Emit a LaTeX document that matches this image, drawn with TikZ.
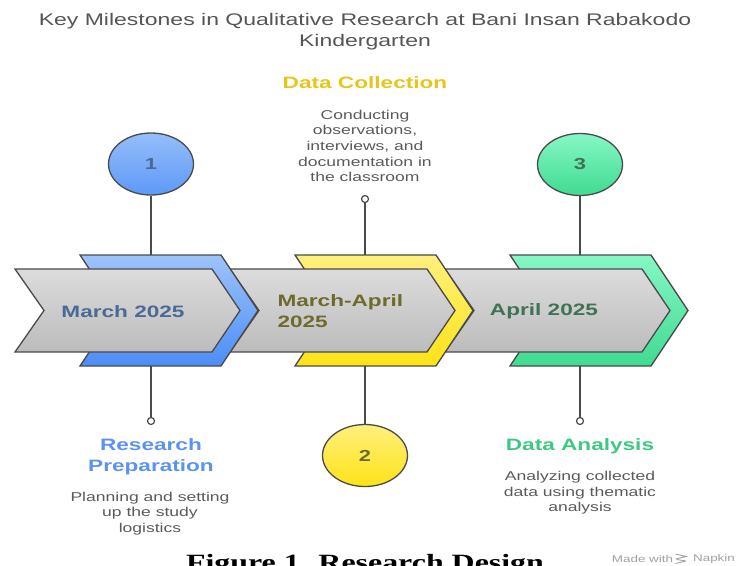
\documentclass[tikz,border=0pt]{standalone}
\usepackage{fontspec}
\setmainfont[FakeStretch=1.37]{Liberation Sans}
\newfontfamily\capfont[FakeStretch=1.37]{Liberation Serif}
\usepackage{tikz}
\usetikzlibrary{shapes.geometric}
\definecolor{edgegray}{HTML}{4A4A4A}
\definecolor{titlegray}{HTML}{555555}
\definecolor{descgray}{HTML}{5A5A5A}
\definecolor{grtop}{HTML}{DCDCDC}
\definecolor{grbot}{HTML}{BCBCBC}
\definecolor{bluetop}{HTML}{9DC3FB}
\definecolor{bluebot}{HTML}{4C8DF6}
\definecolor{yeltop}{HTML}{FFF07E}
\definecolor{yelbot}{HTML}{FDE316}
\definecolor{grntop}{HTML}{86F7C4}
\definecolor{grnbot}{HTML}{3FDB91}
\definecolor{bluehead}{HTML}{5B93EE}
\definecolor{yelhead}{HTML}{E6C619}
\definecolor{grnhead}{HTML}{3DC983}
\definecolor{bluelab}{HTML}{4A6A95}
\definecolor{yellab}{HTML}{6E6A2E}
\definecolor{grnlab}{HTML}{3E7356}
\definecolor{napkingray}{HTML}{A0A0A0}

\begin{document}
\begin{tikzpicture}[x=1pt,y=-1pt,
  outl/.style={draw=edgegray,line width=1.3pt},
  grayarrow/.style={outl,top color=grtop,bottom color=grbot},
  num/.style={ellipse,outl,minimum width=85pt,minimum height=62pt,inner sep=0pt,font=\fontsize{16}{19}\selectfont\bfseries},
  pin/.style={circle,draw=edgegray,fill=white,line width=1.2pt,minimum size=7pt,inner sep=0pt},
  head/.style={align=center,font=\fontsize{16.5}{20.5}\selectfont\bfseries},
  desc/.style={align=center,text=descgray,font=\fontsize{12.8}{15.6}\selectfont},
  stem/.style={draw=edgegray,line width=1.3pt}]
\useasboundingbox (0,0) rectangle (738,565);

\node[align=center,text=titlegray,font=\fontsize{16.8}{21}\selectfont] (title) at (365,32)
  {Key Milestones in Qualitative Research at Bani Insan Rabakodo\\Kindergarten};

\path[outl,top color=grntop,bottom color=grnbot] (510,255) -- (651,255) -- (688,310.5) -- (651,366) -- (510,366) -- (547,310.5) -- cycle;
\path[grayarrow] (445,269) -- (642,269) -- (670,310.5) -- (642,352) -- (445,352) -- (474,310.5) -- cycle;
\path[outl,top color=yeltop,bottom color=yelbot] (295,255) -- (436,255) -- (473,310.5) -- (436,366) -- (295,366) -- (332,310.5) -- cycle;
\path[grayarrow] (230,269) -- (427,269) -- (455,310.5) -- (427,352) -- (230,352) -- (259,310.5) -- cycle;
\path[outl,top color=bluetop,bottom color=bluebot] (80,255) -- (221,255) -- (258,310.5) -- (221,366) -- (80,366) -- (117,310.5) -- cycle;
\path[grayarrow] (15,269) -- (212,269) -- (240,310.5) -- (212,352) -- (15,352) -- (44,310.5) -- cycle;

\node[head,text=bluelab] (L1) at (123,311.5) {March 2025};
\node[head,text=yellab,align=left,anchor=west] (L2) at (274,311) {March-April\\2025};
\node[head,text=grnlab] (L3) at (544,311.5) {April 2025};

\node[num,top color=bluetop!90!bluebot,bottom color=bluebot!90!white,text=bluelab] (N1) at (151,164) {1};
\node[num,top color=yeltop,bottom color=yelbot,text=yellab] (N2) at (365,455.5) {2};
\node[num,top color=grntop,bottom color=grnbot,text=grnlab] (N3) at (580,164.5) {3};

\node[pin] (D1) at (151,421) {};
\node[pin] (D2) at (365,199) {};
\node[pin] (D3) at (580,421) {};

\coordinate (T1) at (151,255);
\coordinate (B1) at (151,366);
\coordinate (T2) at (365,255);
\coordinate (B2) at (365,366);
\coordinate (T3) at (580,255);
\coordinate (B3) at (580,366);

\path[stem]
(N1) edge (T1)
(B1) edge (D1)
(D2) edge (T2)
(B2) edge (N2)
(N3) edge (T3)
(B3) edge (D3);

\node[head,text=yelhead] (H2) at (365,83) {Data Collection};
\node[desc] (E2) at (365,146) {Conducting\\observations,\\interviews, and\\documentation in\\the classroom};
\node[head,text=bluehead] (H1) at (151,456.5) {Research\\Preparation};
\node[desc] (E1) at (150,513.5) {Planning and setting\\up the study\\logistics};
\node[head,text=grnhead] (H3) at (580,446) {Data Analysis};
\node[desc] (E3) at (580,493) {Analyzing collected\\data using thematic\\analysis};

\node[text=napkingray,font=\fontsize{9.8}{11}\selectfont] (M1) at (642.5,559) {Made with};
\node[text=napkingray,font=\fontsize{9.8}{11}\selectfont] (M2) at (714,559) {Napkin};
\draw[napkingray,line width=0.9pt] (675.5,554) -- (686,556.5) -- (675.5,559) (677,559.5) -- (686,561) (675.5,563.5) -- (686,561);

\begin{scope}
\clip (0,0) rectangle (738,565);
\node[font=\capfont\fontsize{23.3}{28}\selectfont\bfseries,anchor=base] (cap) at (365,570) {Figure 1. Research Design};
\end{scope}
\end{tikzpicture}
\end{document}
